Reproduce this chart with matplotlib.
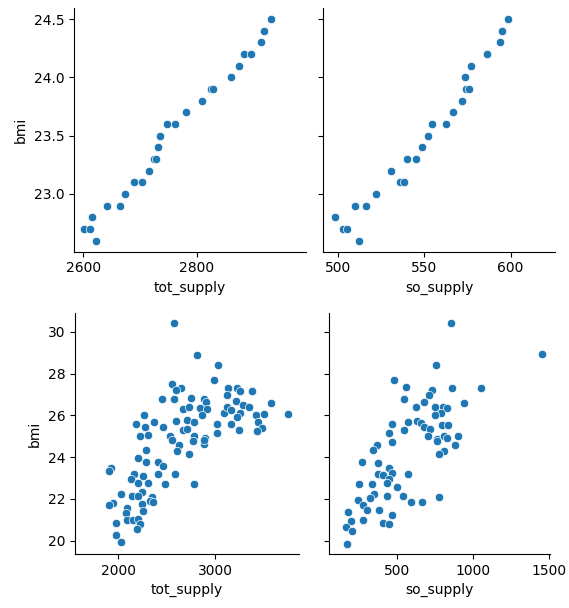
import numpy as np
import pandas as pd
import matplotlib
matplotlib.use('agg')
import matplotlib.pyplot as plt
from matplotlib.ticker import MultipleLocator
import seaborn as sns

# yearly series (one country)
bmi_year = [22.6, 22.7, 22.7, 22.8, 22.9, 22.9, 23.0, 23.1, 23.1, 23.2, 23.3, 23.3, 23.4, 23.5,
            23.6, 23.6, 23.7, 23.8, 23.9, 23.9, 24.0, 24.1, 24.2, 24.2, 24.3, 24.4, 24.5]
tot_year = [2623, 2601, 2611, 2616, 2641, 2664, 2674, 2689, 2703, 2716, 2725, 2729, 2731, 2736,
            2748, 2762, 2782, 2809, 2826, 2828, 2861, 2875, 2884, 2896, 2914, 2918, 2931]
so_year = [512.2, 502.9, 505.2, 497.9, 509.7, 516.1, 521.9, 535.8, 538.1, 530.8, 539.8, 545.1, 548.4, 552.0,
           554.2, 562.3, 566.5, 571.8, 573.9, 575.6, 573.3, 576.8, 586.1, 586.6, 593.6, 594.8, 598.8]

# cross-country values
tot_country = [2576, 2811, 3028, 2993, 2552, 2644, 2597, 2576, 2452, 2752, 2886, 2910, 3138, 3224,
               3255, 3386, 3579, 3752, 3121, 3221, 3293, 3348, 2672, 2731, 2848, 2920, 3093, 3128,
               3169, 3262, 2266, 2186, 2373, 2600, 2714, 2779, 2862, 3017, 3162, 3224, 3428, 3510,
               3448, 3483, 3434, 2276, 2462, 2669, 2714, 3017, 3248, 2303, 2227, 2531, 2786, 2897,
               2558, 2627, 2769, 2886, 2890, 2290, 2603, 2731, 2200, 2290, 2414, 2466, 1921, 1907,
               2407, 2586, 2166, 2259, 2128, 2207, 2303, 2483, 2783, 2028, 2138, 2241, 2200, 2352,
               2328, 2362, 1948, 1907, 2241, 2086, 2079, 2259, 2093, 2155, 2200, 2224, 2197, 1976,
               1976, 2024]
bmi_tot_country = [30.4, 28.9, 28.4, 27.7, 27.5, 27.3, 27.2, 26.8, 26.8, 26.85, 26.8, 26.65, 27.3, 27.3,
                   27.15, 27.15, 26.6, 26.05, 26.95, 26.7, 26.5, 26.4, 26.3, 26.4, 26.35, 26.3, 26.1, 26.4,
                   26.25, 26.1, 26.0, 25.6, 25.7, 25.75, 25.8, 25.7, 26.0, 25.6, 25.6, 25.9, 26.0, 26.05,
                   25.7, 25.4, 25.25, 25.45, 25.45, 25.3, 25.35, 25.15, 25.3, 25.05, 25.0, 25.0, 25.0, 24.9,
                   24.8, 24.6, 24.75, 24.65, 24.8, 24.35, 24.3, 24.15, 23.95, 23.75, 23.75, 23.55, 23.5, 23.35,
                   23.2, 23.2, 23.2, 23.1, 22.95, 22.75, 22.75, 22.7, 22.7, 22.25, 22.15, 22.35, 22.15, 22.1,
                   21.9, 21.85, 21.8, 21.7, 21.75, 21.55, 21.3, 21.4, 21.0, 21.0, 21.05, 20.8, 20.55, 20.85,
                   20.25, 19.95]

so_country = [855, 1456, 759, 480, 561, 862, 1053, 730, 715, 548, 680, 943, 627, 752, 803, 829, 792, 752,
              471, 576, 636, 658, 548, 680, 719, 796, 840, 452, 708, 767, 811, 829, 906, 767, 368, 466,
              342, 812, 884, 780, 274, 379, 452, 467, 375, 412, 577, 452, 254, 340, 439, 504, 353, 439,
              325, 539, 592, 664, 780, 247, 280, 307, 386, 467, 182, 276, 197, 412, 449, 164, 204, 171]
bmi_so_country = [30.4, 28.95, 28.4, 27.7, 27.35, 27.3, 27.3, 27.2, 26.95, 26.8, 26.65, 26.6, 26.4, 26.4,
                  26.4, 26.35, 26.1, 26.0, 25.6, 25.7, 25.75, 25.65, 25.3, 25.45, 25.35, 25.55, 25.55, 25.15,
                  25.0, 24.85, 25.0, 24.9, 25.0, 24.75, 24.6, 24.7, 24.35, 24.3, 24.6, 24.15, 23.75, 23.7,
                  23.5, 23.25, 23.2, 23.15, 23.2, 22.95, 22.7, 22.7, 22.75, 22.55, 22.25, 22.15, 22.05, 22.15,
                  21.85, 21.85, 22.1, 21.95, 21.7, 21.45, 21.45, 21.25, 21.35, 21.0, 20.95, 20.85, 20.8, 20.65,
                  20.45, 19.85]

year_df = pd.DataFrame({'tot_supply': tot_year, 'so_supply': so_year, 'bmi': bmi_year})
tot_df = pd.DataFrame({'tot_supply': tot_country, 'bmi': bmi_tot_country})
so_df = pd.DataFrame({'so_supply': so_country, 'bmi': bmi_so_country})

W, H = 569, 608
fig = plt.figure(figsize=(W / 100, H / 100), dpi=100)


def box(x0, x1, y0, y1):
    # pixel box -> figure fraction rect
    return [x0 / W, 1 - y1 / H, (x1 - x0) / W, (y1 - y0) / H]


ax1 = fig.add_axes(box(74, 306, 8, 251.7))
ax2 = fig.add_axes(box(323.3, 555, 8, 251.7), sharey=ax1)
ax3 = fig.add_axes(box(75, 299.3, 313, 554))
ax4 = fig.add_axes(box(329.3, 550, 313, 554), sharey=ax3)

sns.scatterplot(data=year_df, x='tot_supply', y='bmi', ax=ax1)
sns.scatterplot(data=year_df, x='so_supply', y='bmi', ax=ax2)
sns.scatterplot(data=tot_df, x='tot_supply', y='bmi', ax=ax3)
sns.scatterplot(data=so_df, x='so_supply', y='bmi', ax=ax4)

ax1.set_xlim(2583.5, 2993)
ax1.xaxis.set_major_locator(MultipleLocator(200))
ax1.set_ylim(22.505, 24.595)
ax1.yaxis.set_major_locator(MultipleLocator(0.5))
ax2.set_xlim(491.3, 625.8)
ax2.xaxis.set_major_locator(MultipleLocator(50))

ax3.set_xlim(1552, 3872)
ax3.xaxis.set_major_locator(MultipleLocator(1000))
ax3.set_ylim(19.36, 30.9)
ax3.yaxis.set_major_locator(MultipleLocator(2))
ax4.set_xlim(56.6, 1508)
ax4.xaxis.set_major_locator(MultipleLocator(500))

for ax in (ax2, ax4):
    ax.set_ylabel('')
    ax.tick_params(axis='y', labelleft=False)

for ax in (ax1, ax2, ax3, ax4):
    sns.despine(ax=ax)

fig.savefig('out.png', dpi=100)
